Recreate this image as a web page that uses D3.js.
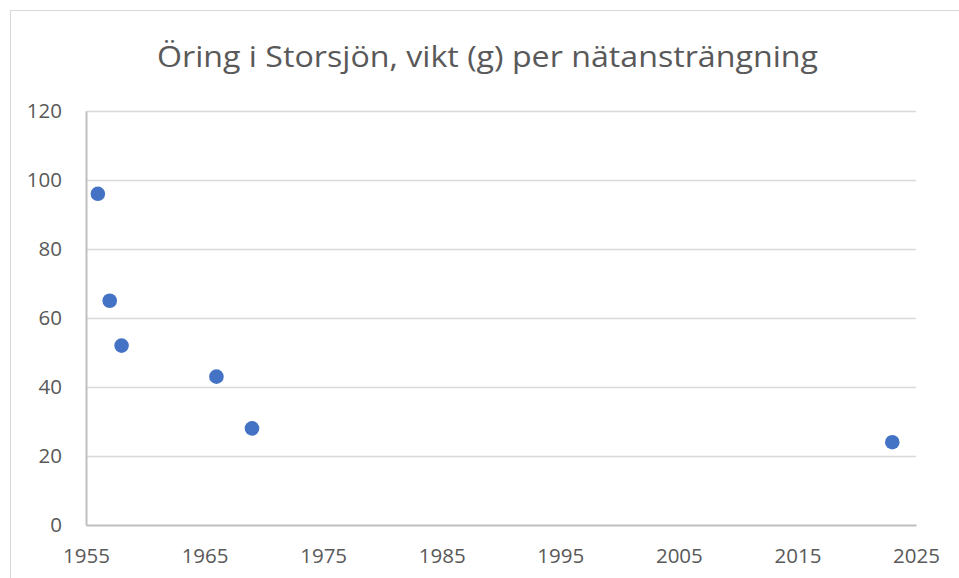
<!DOCTYPE html>
<html>
<head>
<meta charset="utf-8">
<script src="https://cdn.jsdelivr.net/npm/d3@7"></script>
<style>
  body { margin: 0; background: #fff; }
  svg { display: block; font-family: "Open Sans", "Noto Sans", sans-serif; }
</style>
</head>
<body>
<div id="chart"></div>
<script>
// data
var years = [1956, 1957, 1958, 1966, 1969, 2023];
var weights = [96, 65, 52, 43, 28, 24];
var xTicks = [1955, 1965, 1975, 1985, 1995, 2005, 2015, 2025];
var yTicks = [0, 20, 40, 60, 80, 100, 120];
var title = "Öring i Storsjön, vikt (g) per nätansträngning";

var width = 959,
  height = 578,
  margin = { top: 111, right: 43, bottom: 53, left: 86 };

var svg = d3.select("#chart").append("svg")
  .attr("width", width)
  .attr("height", height);

// chart area border
svg.append("rect")
  .attr("x", 10.5)
  .attr("y", 10.5)
  .attr("width", width + 20)
  .attr("height", height + 20)
  .attr("fill", "#fff")
  .attr("stroke", "#d9d9d9");

var x = d3.scaleLinear()
  .domain([1955, 2025])
  .range([margin.left, width - margin.right]);

var y = d3.scaleLinear()
  .domain([0, 120])
  .range([height - margin.bottom, margin.top]);

// gridlines
svg.append("g")
  .selectAll("line")
  .data(yTicks.filter(d => d > 0))
  .join("line")
  .attr("x1", margin.left)
  .attr("x2", width - margin.right)
  .attr("y1", d => Math.round(y(d)) + 0.5)
  .attr("y2", d => Math.round(y(d)) + 0.5)
  .attr("stroke", "#d9d9d9")
  .attr("stroke-width", 1.3);

// axes
var yAxis = svg.append("g")
  .attr("transform", `translate(${margin.left},0)`)
  .call(d3.axisLeft(y).tickValues(yTicks).tickSize(0).tickPadding(24));

var xAxis = svg.append("g")
  .attr("transform", `translate(0,${height - margin.bottom})`)
  .call(d3.axisBottom(x).tickValues(xTicks).tickFormat(d3.format("d")).tickSize(0).tickPadding(23));

[yAxis, xAxis].forEach(g => {
  g.select(".domain").attr("stroke", "#bfbfbf").attr("stroke-width", 2);
  g.selectAll("text")
    .attr("fill", "#595959")
    .attr("font-size", 20.5)
    .attr("font-family", "'Open Sans', 'Noto Sans', sans-serif");
});

// points
svg.append("g")
  .selectAll("circle")
  .data(years.map((d, i) => ({ year: d, value: weights[i] })))
  .join("circle")
  .attr("cx", d => x(d.year))
  .attr("cy", d => y(d.value))
  .attr("r", 7.3)
  .attr("fill", "#4472c4");

// title
svg.append("text")
  .attr("x", 487.5)
  .attr("y", 67)
  .attr("text-anchor", "middle")
  .attr("fill", "#595959")
  .attr("font-size", 30)
  .attr("textLength", 661)
  .attr("lengthAdjust", "spacingAndGlyphs")
  .text(title);
</script>
</body>
</html>
